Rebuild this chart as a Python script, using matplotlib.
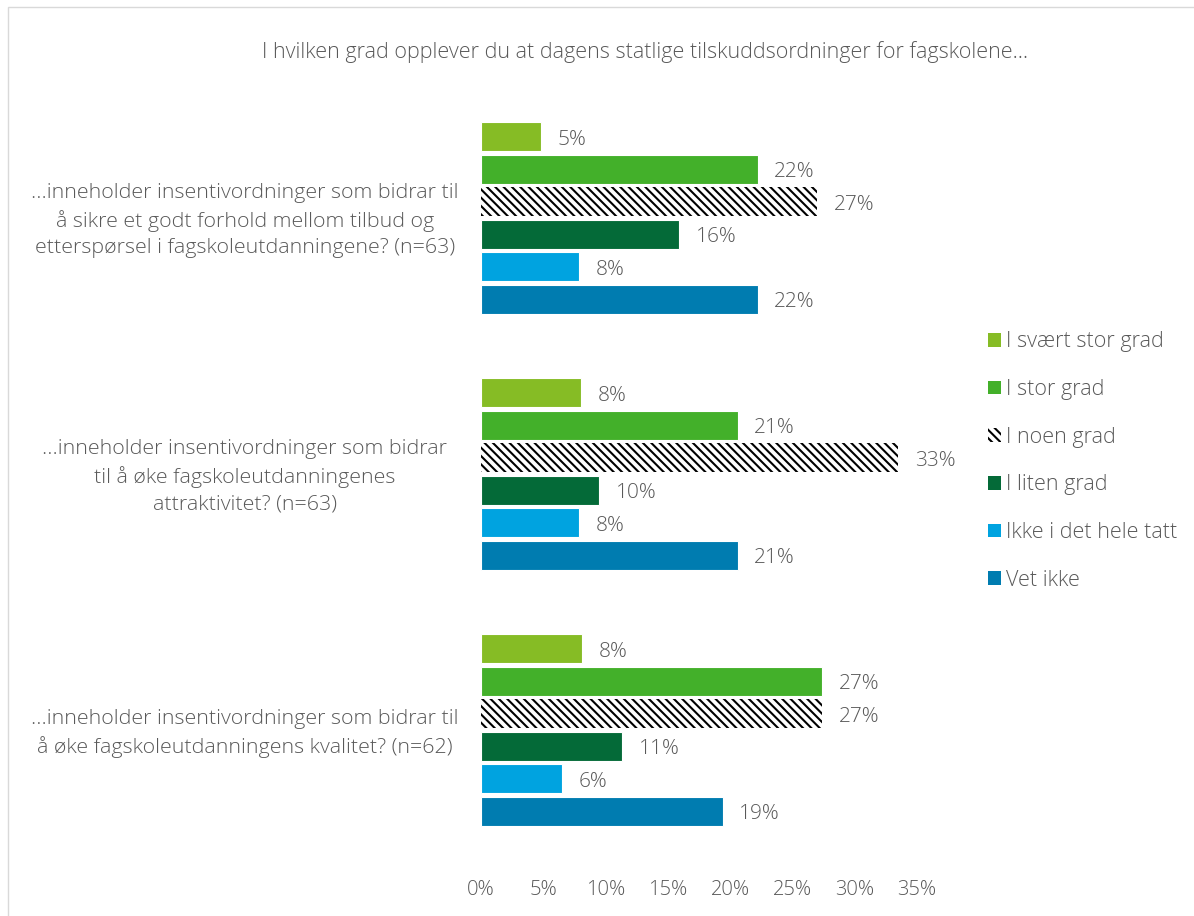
import matplotlib
matplotlib.use("Agg")
import matplotlib.pyplot as plt
from matplotlib.patches import Rectangle, Patch
from matplotlib.transforms import ScaledTranslation
import numpy as np

plt.rcParams['font.family'] = ['Open Sans', 'DejaVu Sans']
plt.rcParams['font.weight'] = 'light'
plt.rcParams['hatch.linewidth'] = 1.5

title = "I hvilken grad opplever du at dagens statlige tilskuddsordninger for fagskolene…"
questions = [
    "...inneholder insentivordninger som bidrar til\nå sikre et godt forhold mellom tilbud og\netterspørsel i fagskoleutdanningene? (n=63)",
    "...inneholder insentivordninger som bidrar\ntil å øke fagskoleutdanningenes\nattraktivitet? (n=63)",
    "...inneholder insentivordninger som bidrar til\nå øke fagskoleutdanningens kvalitet? (n=62)",
]
series = ["I svært stor grad", "I stor grad", "I noen grad", "I liten grad",
          "Ikke i det hele tatt", "Vet ikke"]
svaert_stor = [4.8, 8.0, 8.1]
stor = [22.2, 20.6, 27.4]
noen = [27.0, 33.5, 27.4]
liten = [15.9, 9.5, 11.3]
ikke = [7.9, 7.9, 6.5]
vet_ikke = [22.2, 20.6, 19.4]
value_labels = [["5%", "8%", "8%"], ["22%", "21%", "27%"], ["27%", "33%", "27%"],
                ["16%", "10%", "11%"], ["8%", "8%", "6%"], ["22%", "21%", "19%"]]
xticks = [0, 5, 10, 15, 20, 25, 30, 35]

colors = ["#86BC25", "#43B02A", "white", "#046A38", "#00A3E0", "#007CB0"]
text_color = "#595959"

W, H = 1194, 916
fig = plt.figure(figsize=(W / 100, H / 100), dpi=100)
ax = fig.add_axes([481 / W, (916 - 858) / H, 436 / W, (858 - 90) / H])

data = [svaert_stor, stor, noen, liten, ikke, vet_ikke]
step = 32.5 / 256
bh = 29 / 256
groups = np.arange(len(questions))
for j, (name, vals) in enumerate(zip(series, data)):
    y = groups + (j - 2.5) * step
    if name == "I noen grad":
        bars = ax.barh(y, vals, height=bh, color="white", edgecolor="black",
                       hatch="\\\\\\\\", linewidth=0, label=name)
    else:
        bars = ax.barh(y, vals, height=bh, color=colors[j], edgecolor="white",
                       linewidth=0.8, label=name)
    for k, b in enumerate(bars):
        ax.annotate(value_labels[j][k], (b.get_width(), b.get_y() + b.get_height() / 2),
                    xytext=(12, -2), textcoords="offset points", va="center", ha="left",
                    fontsize=15, color=text_color)

ax.set_xlim(0, 35)
ax.set_ylim(2.5, -0.5)
ax.set_xticks(xticks)
ax.set_xticklabels([f"{t}%" for t in xticks])
ax.set_yticks(groups)
ax.set_yticklabels(questions, ha="center", multialignment="center", linespacing=1.42)
ax.tick_params(axis="y", length=0, pad=170, labelsize=15.4, labelcolor=text_color)
ax.tick_params(axis="x", length=0, pad=16, labelsize=14.5, labelcolor=text_color)
shift = ScaledTranslation(0, 3 / 100, fig.dpi_scale_trans)
for lab in ax.get_yticklabels():
    lab.set_transform(lab.get_transform() + shift)
for s in ax.spines.values():
    s.set_visible(False)

fig.text(645 / W, 1 - 52 / H, title, ha="center", va="center", fontsize=15.5,
         color=text_color)

handles = [Patch(facecolor=c, edgecolor="white", linewidth=0) if s != "I noen grad"
           else Patch(facecolor="white", edgecolor="black", hatch="\\\\\\\\", linewidth=0)
           for s, c in zip(series, colors)]
leg = fig.legend(handles, series, loc="upper left", bbox_to_anchor=(969 / W, 1 - 312 / H),
                 frameon=False, fontsize=15.5, labelspacing=1.24, handlelength=0.6,
                 handleheight=0.6, handletextpad=0.22, labelcolor=text_color)

fig.patches.append(Rectangle((8 / W, -0.1), 2, 1 - 7 / H + 0.1, transform=fig.transFigure,
                             fill=False, edgecolor="#d9d9d9", linewidth=1))

fig.savefig("out.png", dpi=100)
